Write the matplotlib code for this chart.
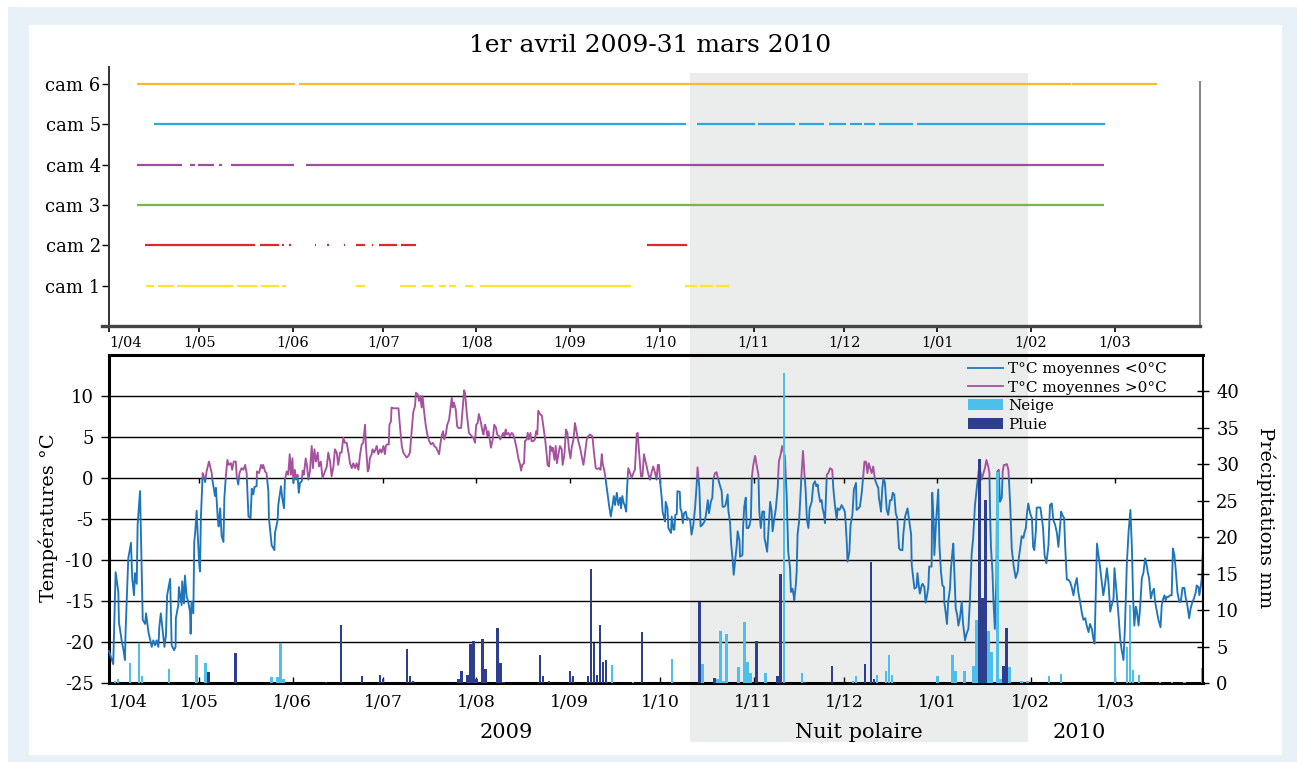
import datetime as dt
import matplotlib
matplotlib.use("Agg")
import matplotlib.pyplot as plt
from matplotlib.patches import Rectangle, Patch
from matplotlib.lines import Line2D
from matplotlib.transforms import blended_transform_factory

plt.rcParams['font.family'] = ['DejaVu Serif']

# ---------------------------------------------------------------- data
START = dt.date(2009, 4, 1)
month_labels = ["1/04", "1/05", "1/06", "1/07", "1/08", "1/09",
                "1/10", "1/11", "1/12", "1/01", "1/02", "1/03"]
polar_night = (dt.date(2009, 10, 11), dt.date(2010, 1, 31))

cam_labels = ["cam 1", "cam 2", "cam 3", "cam 4", "cam 5", "cam 6"]
cam_colors = ["#FFE52B", "#E1262E", "#7DB544", "#9C4E9F", "#2AA8E0", "#F8B833"]

# periods with images, in days since 1 April 2009
cam1_periods = [(12.4, 15.1), (16.2, 21.7), (22.6, 41.2), (42.6, 49.0), (50.6, 56.4),
                (57.5, 58.6), (82.0, 85.0), (96.7, 102.0), (104.0, 107.4),
                (109.6, 112.0), (112.9, 115.3), (118.1, 120.9), (123.3, 173.2),
                (191.3, 195.1), (196.3, 200.5), (201.6, 205.7)]
cam2_periods = [(12.0, 48.5), (50.2, 56.4), (57.6, 58.1), (59.8, 60.3), (68.3, 68.8),
                (72.4, 72.9), (78.0, 78.5), (82.0, 85.0), (87.3, 87.8), (89.6, 95.6),
                (97.0, 102.0), (178.7, 192.0)]
cam3_periods = [(9.3, 330.2)]
cam4_periods = [(9.3, 24.1), (26.9, 28.5), (29.5, 35.0), (36.5, 37.5), (40.5, 61.4),
                (65.5, 330.2)]
cam5_periods = [(15.1, 191.6), (195.1, 214.6), (215.6, 227.6), (229.0, 237.3),
                (238.9, 244.8), (246.0, 249.9), (250.7, 254.4), (255.7, 267.0),
                (268.4, 330.5)]
cam6_periods = [(9.3, 61.9), (63.0, 319.3), (319.7, 348.0)]
cam_periods = [cam1_periods, cam2_periods, cam3_periods,
               cam4_periods, cam5_periods, cam6_periods]

# daily mean temperature (°C), days since 1 April 2009
temp_day = [
    0.0, 1.4, 2.2, 3.1, 3.3, 4.2, 4.8, 5.3, 5.5, 6.4, 7.3, 7.7, 8.3, 8.6, 9.2, 9.5,
    10.3, 10.8, 11.2, 12.0, 12.3, 13.1, 14.2, 14.7, 15.3, 15.8, 16.4, 16.7, 17.2, 17.7,
    18.4, 18.9, 19.3, 20.3, 20.8, 21.6, 22.1, 22.2, 23.0, 23.2, 24.1, 24.3, 24.9, 25.2,
    25.8, 26.3, 26.9, 27.1, 27.4, 28.0, 28.3, 28.6, 29.1, 29.4, 29.9, 30.2, 30.5, 31.1,
    31.5, 31.9, 32.4, 33.2, 34.1, 34.3, 35.2, 35.5, 36.1, 36.4, 36.9, 37.4, 38.0, 38.3,
    38.8, 39.3, 39.8, 40.5, 40.9, 41.4, 42.1, 42.4, 42.9, 43.3, 44.0, 44.6, 45.2, 45.7,
    46.3, 47.0, 47.4, 47.9, 48.3, 49.0, 49.1, 49.8, 50.5, 50.9, 51.2, 51.8, 52.3, 52.9,
    53.1, 54.0, 54.9, 55.1, 56.0, 56.2, 57.1, 57.5, 58.1,
    58.4, 59.0, 59.5, 60.0, 60.4, 60.9, 61.2, 61.7, 62.1, 62.6, 63.0, 63.4, 64.0, 64.3,
    64.7, 65.3, 65.7, 66.2, 66.7, 67.3, 67.7, 68.2, 68.7, 69.3, 69.7, 70.3, 70.9, 71.5,
    72.3, 72.8, 73.4, 73.9, 74.5, 75.0, 75.6, 76.1, 76.7, 77.2, 77.8, 78.3, 78.9, 79.5,
    80.0, 80.6, 81.1, 81.7, 82.2, 82.8, 83.3, 83.9, 84.4, 85.0, 85.3, 85.9, 86.3, 86.6,
    87.2, 87.5, 88.0, 88.5, 88.9, 89.4, 90.0, 90.5, 91.1, 91.6, 91.9, 92.3, 92.9, 93.1,
    93.6, 93.8, 94.4, 95.0, 96.1, 96.6, 97.2, 97.7, 98.8, 99.4, 99.9, 100.5, 101.0,
    101.6, 101.9, 102.5, 102.9, 103.3, 103.8, 104.1, 104.7, 105.2, 105.8, 106.3, 106.9,
    107.5, 108.0, 108.6, 109.1, 109.6, 110.0, 110.4, 110.9, 111.3, 111.8, 112.3, 112.9,
    113.2, 113.8, 114.1, 114.5, 115.1, 115.6, 116.0, 116.5, 116.9, 117.4, 117.9,
    118.2, 118.8, 119.5, 120.4, 121.0, 121.5, 121.9, 122.4, 122.8, 123.4, 124.0, 124.3,
    124.8, 125.2, 125.6, 126.0, 126.5, 126.8, 127.4, 127.9, 128.5, 128.9, 129.5, 129.9,
    130.4, 130.9, 131.3, 131.7, 132.0, 132.6, 133.1, 133.7, 134.2, 134.8, 135.4, 135.9,
    136.5, 136.8, 137.2, 137.8, 138.1, 138.7, 139.0, 139.4, 139.9, 140.3, 140.9, 141.4,
    141.8, 142.2, 142.5, 143.1, 143.7, 144.2, 144.8, 145.2, 145.6, 146.1, 146.5, 147.0,
    147.3, 147.9, 148.3, 148.7, 149.3, 149.7, 150.3, 150.6, 151.2, 151.7, 152.2, 152.7,
    153.2, 153.6, 154.2, 154.7, 155.3, 155.8, 156.4, 156.9, 157.5, 158.0, 158.6, 159.1,
    159.7, 160.5, 161.0, 161.6, 162.1, 162.7, 163.2, 163.6, 163.9, 164.5, 164.9, 165.6,
    166.0, 166.6, 167.1, 167.6, 168.0, 168.6, 169.1, 169.7, 170.0, 170.4, 170.9, 171.2,
    171.7, 172.0, 172.4, 173.0, 173.5, 174.1, 174.6, 175.2, 175.5, 176.0, 176.6, 177.1,
    177.6,
    178.5, 179.1, 179.6, 180.2, 180.7, 181.3, 181.8, 182.2, 182.6, 183.0, 183.5, 183.8,
    184.3, 184.6, 184.8, 185.4, 185.7, 186.3, 186.6, 186.8, 187.4, 187.7, 188.0, 188.5,
    188.7, 189.5, 189.7, 190.1, 190.5, 190.9, 191.5, 192.0, 192.3, 192.9, 193.4, 194.0,
    194.6, 195.1, 195.4, 196.0, 196.4, 197.0, 197.7, 198.1, 198.4, 198.8, 199.2, 199.8,
    200.3, 200.6, 201.2, 201.7, 202.3, 202.9, 203.4, 203.7, 204.3, 204.7, 205.4, 205.6,
    206.2, 206.5, 207.0, 207.4, 207.8, 208.4, 208.7, 209.3, 209.5, 210.3, 210.5, 210.9,
    211.4, 211.7, 212.3, 212.7, 213.1, 213.4, 213.9, 214.5, 215.0, 215.6, 215.9, 216.4,
    216.9, 217.5, 217.6, 218.0, 218.5, 218.9, 219.5, 220.0, 220.3, 220.9, 221.4, 222.0,
    222.4, 223.0, 223.5, 224.0, 224.4, 225.0, 225.5, 226.1, 226.4, 226.9, 227.3, 227.5,
    228.0, 228.3, 228.6, 229.1, 229.4, 229.9, 230.4, 230.9, 231.3, 231.7, 232.2, 232.6,
    233.3, 233.8, 234.4, 234.8, 235.3, 235.5, 236.1, 236.6, 236.9, 237.4, 237.7,
    238.3, 238.8, 239.4, 240.1, 240.5, 241.0, 241.6, 241.9, 242.5, 242.8, 243.2, 243.8,
    244.3, 244.6, 244.9, 245.2, 245.8, 246.2, 246.8, 247.3, 248.0, 248.2, 248.8, 249.3,
    249.9, 250.3, 250.8, 251.3, 251.8, 252.2, 252.7, 253.2, 253.7, 254.3, 254.9, 255.4,
    255.6, 256.0, 256.3, 256.7, 257.1, 257.6, 258.2, 258.7, 259.3, 259.8, 260.2, 260.7,
    261.2, 261.7, 262.3, 262.9, 263.4, 263.7, 264.3, 264.8, 265.1, 265.7, 266.3, 266.5,
    267.0, 267.4, 268.1, 268.4, 268.9, 269.2, 269.8, 270.1, 270.7, 271.1, 271.6, 272.0,
    272.3, 273.1, 273.3, 273.8, 274.0, 274.6, 274.9, 275.3, 275.7, 276.2, 276.7, 277.2,
    277.3, 277.8, 278.2, 278.6, 279.2, 279.5, 280.0, 280.3, 280.6, 281.1, 281.6, 282.0,
    282.5, 283.1, 283.5, 284.2, 284.7, 285.3, 285.8, 286.4, 286.9, 287.5, 288.1, 288.6,
    288.9, 289.5, 289.7, 290.3, 290.8, 291.3, 291.9, 292.3, 292.5, 292.8, 293.3, 293.6,
    294.1, 294.6, 294.9, 295.4, 295.8, 296.4, 296.7, 297.1,
    297.5, 298.1, 298.6, 299.2, 299.7, 300.3, 301.0, 301.7, 302.1, 302.5, 303.0, 303.6,
    303.9, 304.4, 304.7, 305.2, 305.8, 306.4, 306.8, 307.2, 307.7, 308.0, 308.6, 309.2,
    309.7, 310.1, 310.6, 311.2, 311.9, 312.4, 313.0, 313.5, 314.1, 314.7, 315.2, 315.8,
    316.1, 316.5, 317.1, 317.4, 318.0, 318.5, 319.1, 319.6, 320.2, 320.7, 321.3, 321.8,
    322.4, 323.0, 323.5, 324.1, 324.6, 325.2, 325.7, 326.3, 326.8, 327.2, 327.6, 328.0,
    328.5, 329.0, 329.6, 330.1, 330.7, 331.3, 331.8, 332.4, 332.9, 333.5, 333.8, 334.2,
    334.6, 335.1, 335.7, 336.2, 336.8, 337.3, 337.9, 338.5, 339.1, 339.6, 340.0, 340.4,
    340.9, 341.2, 341.8, 342.3, 342.9, 343.4, 344.0, 344.5, 344.9, 345.3, 345.9, 346.4,
    346.9, 347.3, 347.9, 348.4, 349.1, 349.5, 350.0, 350.4, 350.8, 351.2, 351.7, 352.3,
    352.8, 353.2, 353.7, 354.2, 354.7, 355.3, 355.8, 356.4, 357.0, 357.5, 358.0, 358.6,
    359.1, 359.7, 360.2, 360.8, 361.1, 361.7, 362.0, 362.5, 362.8, 363.3,
]
temp_mean = [
    -21.1, -22.7, -11.5, -13.9, -17.6, -19.8, -21.0, -22.2, -18.8, -9.8, -7.9, -12.2,
    -14.3, -11.6, -12.9, -5.7, -1.6, -10.6, -17.3, -17.8, -16.5, -18.8, -20.6, -19.8,
    -20.4, -19.8, -20.6, -18.2, -16.5, -18.2, -20.6, -19.2, -14.3, -12.3, -20.4, -21.0,
    -20.6, -17.1, -15.5, -13.3, -15.5, -12.6, -15.3, -11.9, -14.5, -15.1, -16.3, -19.0,
    -15.1, -16.5, -7.8, -6.7, -4.0, -6.5, -10.2, -11.4, -4.9, 0.6, 0.2, -0.5, 0.8, 2.0,
    0.6, -0.2, -2.2, -1.2, -4.9, -5.9, -3.7, -7.1, -7.8, -2.4, 0.2, 2.2, 1.6, 1.8, 1.0,
    2.0, 2.0, 0.2, -0.8, 0.6, 1.2, 1.0, 1.6, 0.6, -4.7, -4.9, -1.3, -2.0, -1.1, -1.0,
    0.8, 0.6, 1.6, 1.2, 1.6, 0.8, 0.6, -1.6, -4.9, -8.2, -8.8, -6.7, -5.1, -3.3, -1.0,
    -2.4, -3.7,
    -0.2, 0.8, 0.4, 2.9, 0.4, 2.4, -0.6, 1.0, -0.2, 0.4, -1.8, -0.6, -0.4, 0.9, 0.4, 2.4,
    1.6, -0.2, 0.8, 3.9, 1.2, 3.5, 2.0, 3.1, 1.4, 2.0, 0.0, 0.6, 1.4, 3.1, 2.0, 0.2, 1.4,
    3.5, 3.1, 1.6, 3.1, 3.1, 4.9, 4.3, 4.3, 3.1, 1.8, 1.2, 1.8, 1.2, 1.8, 1.0, 2.7, 4.1,
    4.3, 6.5, 3.9, 0.8, 1.2, 2.4, 2.9, 3.5, 3.1, 3.5, 3.9, 2.9, 3.5, 3.1, 3.9, 2.9, 3.9,
    4.1, 4.1, 6.5, 6.9, 8.6, 8.5, 8.5, 8.5, 6.3, 3.9, 3.1, 2.5, 2.7, 3.1, 5.7, 8.0, 8.8,
    10.4, 10.2, 9.4, 10.0, 8.6, 10.0, 7.8, 6.3, 5.1, 4.5, 4.1, 4.3, 3.9, 3.7, 3.3, 2.9,
    4.1, 5.1, 5.7, 4.7, 5.3, 6.5, 7.1, 8.0, 9.8, 8.6, 9.2, 8.4, 6.3, 6.1, 6.1, 6.1, 8.4,
    10.7,
    10.4, 7.8, 5.5, 5.1, 4.9, 4.3, 6.5, 6.7, 7.8, 6.9, 5.7, 5.3, 6.5, 6.1, 5.1, 5.7, 4.5,
    3.7, 4.7, 6.5, 6.1, 5.3, 5.1, 4.7, 5.1, 5.5, 5.1, 5.9, 5.3, 5.5, 5.1, 5.5, 5.3, 4.5,
    3.5, 2.4, 1.6, 0.9, 1.6, 1.8, 4.5, 4.7, 5.5, 4.7, 5.5, 4.5, 4.5, 4.7, 5.7, 5.3, 8.2,
    7.8, 7.6, 6.3, 4.7, 3.3, 1.6, 1.4, 3.9, 3.3, 3.7, 2.2, 3.9, 1.8, 3.1, 3.9, 3.5, 1.6,
    2.9, 5.9, 5.5, 3.5, 2.4, 3.7, 4.7, 6.7, 5.5, 4.5, 3.7, 2.7, 1.6, 2.9, 4.7, 5.1, 5.3,
    5.1, 3.1, 1.2, 1.1, 1.2, 1.0, 2.9, 1.8, 0.8, -0.2, -2.2, -3.3, -4.7, -3.5, -2.2,
    -3.3, -1.8, -3.3, -2.4, -3.7, -2.2, -3.1, -3.3, -4.1, -1.2, 1.2, 0.6, 0.0, 0.6, 1.0,
    5.3, 5.5, 3.1, 0.2, 0.2, 2.9,
    1.4, 0.4, -0.2, 0.8, 1.4, 0.6, -0.2, 1.6, 1.6, -0.6, -2.4, -4.1, -4.9, -5.3, -2.9,
    -3.7, -6.1, -6.5, -6.7, -4.7, -6.3, -6.3, -4.5, -4.4, -1.6, -1.7, -3.7, -4.1, -5.5,
    -4.3, -4.1, -5.1, -4.9, -5.1, -6.9, -5.7, -3.5, -0.8, 1.3, -1.2, -5.9, -5.7, -5.3,
    -4.7, -3.9, -2.7, -4.3, -2.9, -2.4, -0.2, 0.6, 0.7, -0.2, -1.0, -1.6, -3.5, -3.5,
    -3.3, -2.0, -3.9, -5.5, -7.8, -9.8, -11.8, -10.4, -8.2, -6.5, -7.6, -9.6, -9.4, -6.1,
    -3.5, -2.4, -6.1, -6.1, -5.7, -4.9, 0.0, 1.6, 2.7, 1.6, 0.4, -4.1, -6.1, -4.1, -4.1,
    -7.3, -8.0, -9.0, -6.5, -2.9, -4.1, -6.5, -4.9, -3.7, -1.2, 2.0, 2.9, 3.9, 3.1, 2.7,
    -2.4, -9.0, -11.0, -13.9, -13.5, -14.3, -14.9, -13.1, -11.4, -6.9, -5.3, -3.3, 0.4,
    3.3, 0.4, -1.6, -5.1, -6.1, -3.7, -2.9, -0.8, -0.4, -1.0, -0.8, -1.6, -2.9, -2.7,
    -3.7, -4.5, -5.5,
    0.4, 0.6, 1.2, 1.0, -1.4, -3.3, -5.1, -3.7, -3.9, -3.7, -3.3, -3.7, -4.1, -5.7, -7.6,
    -10.2, -9.0, -5.7, -4.5, -1.4, -0.6, -3.9, -3.7, -3.5, -1.8, -0.2, 2.0, 2.0, 0.6,
    1.8, 1.2, 0.6, 1.4, -0.2, -0.8, -1.2, -2.4, -3.3, -4.1, -1.4, 0.0, -0.6, -3.9, -4.5,
    -2.7, -2.7, -1.8, -2.0, -4.3, -4.9, -8.6, -8.8, -8.8, -6.9, -4.7, -4.1, -3.7, -5.3,
    -6.9, -10.6, -12.2, -13.5, -13.3, -11.6, -13.3, -14.1, -13.1, -12.9, -13.3, -15.2,
    -14.3, -13.3, -10.8, -10.8, -1.8, -5.3, -9.4, -5.3, -3.7, -1.4, -8.2, -11.4, -13.1,
    -13.3, -15.1, -16.5, -17.8, -15.1, -13.5, -11.2, -9.0, -8.0, -11.0, -15.9, -16.7,
    -18.0, -17.1, -15.1, -17.6, -19.8, -19.0, -18.4, -15.1, -9.2, -7.3, -3.3, -1.2, 0.4,
    1.4, 0.4, -0.2, 0.6, 1.2, 2.2, 1.4, 0.6, -4.1, -8.4, -11.4, -14.7, -18.4, -12.2, 0.8,
    1.0, -2.9, -2.4, 0.8, 1.6,
    1.6, 1.7, 1.0, -3.3, -8.6, -10.6, -12.2, -11.4, -9.6, -8.6, -7.1, -7.3, -6.7, -6.1,
    -4.5, -3.1, -4.3, -4.9, -8.4, -8.8, -6.5, -3.6, -3.6, -3.6, -4.9, -6.1, -9.4, -10.4,
    -8.2, -3.3, -3.1, -5.1, -5.7, -6.7, -8.4, -5.7, -4.1, -4.5, -4.9, -8.0, -12.4, -12.4,
    -12.7, -13.3, -14.3, -13.1, -12.2, -13.9, -15.1, -16.5, -17.3, -17.1, -18.0, -18.8,
    -17.8, -18.4, -19.6, -20.2, -13.9, -8.0, -9.4, -10.8, -12.7, -14.3, -12.9, -11.0,
    -12.7, -16.3, -15.5, -14.7, -11.0, -12.7, -14.3, -16.5, -19.6, -21.0, -22.2, -18.0,
    -10.6, -6.5, -3.9, -8.6, -14.7, -18.0, -15.7, -16.1, -18.0, -15.9, -12.2, -11.6,
    -9.8, -10.6, -11.6, -12.2, -14.7, -13.9, -13.5, -15.1, -16.3, -17.3, -18.2, -15.5,
    -14.7, -14.3, -14.9, -14.5, -14.5, -14.3, -14.3, -8.6, -9.4, -11.4, -13.9, -15.1,
    -15.1, -13.4, -13.4, -14.7, -15.5, -17.1, -15.9, -15.1, -14.7, -13.9, -13.1, -13.3,
    -14.3, -13.1, -12.2, -7.3,
]

# daily precipitation (mm)
snow_day = [2, 3, 7, 10, 11, 20, 29, 32, 54, 56, 57, 58, 167, 174, 187, 197, 202, 203,
            204, 205, 209, 211, 212, 213, 218, 224, 230, 247, 248, 255, 258, 259, 260,
            275, 280, 281, 284, 287, 288, 292, 293, 295, 296, 299, 303, 305, 312, 316,
            334, 338, 339, 340, 342, 349, 353, 357, 363]
snow_mm = [0.3, 0.5, 2.7, 5.5, 1.0, 1.9, 3.8, 2.8, 0.8, 0.8, 5.5, 0.6, 2.5, 0.2, 3.3,
           2.6, 0.5, 7.1, 0.3, 6.7, 2.2, 8.4, 2.9, 1.4, 1.4, 42.5, 1.4, 0.3, 0.9, 1.1,
           1.6, 3.9, 1.1, 1.0, 3.8, 1.6, 1.6, 2.4, 8.6, 7.1, 4.2, 29.0, 0.6, 2.2, 0.3,
           0.3, 1.0, 1.2, 5.5, 5.0, 10.7, 1.8, 1.1, 0.2, 0.2, 0.2, 2.0]
rain_day = [33, 42, 72, 77, 84, 90, 91, 99, 100, 101, 116, 117, 119, 120, 121, 122, 124,
            125, 129, 130, 131, 143, 144, 146, 153, 154, 159, 160, 161, 162, 163, 164,
            165, 177, 196, 201, 215, 222, 223, 231, 240, 251, 253, 254, 289, 290, 291,
            297, 298]
rain_mm = [1.5, 4.1, 0.2, 8.0, 1.0, 1.1, 0.5, 4.7, 0.9, 0.3, 0.5, 1.6, 1.1, 5.3, 5.7,
           0.5, 6.0, 1.9, 7.5, 2.8, 0.2, 3.9, 1.0, 0.3, 1.7, 1.0, 0.9, 15.6, 5.5, 1.1,
           7.9, 2.9, 3.1, 7.0, 11.1, 0.7, 5.7, 1.0, 14.9, 0.2, 2.4, 2.6, 16.6, 0.5, 30.8,
           11.6, 25.1, 2.3, 7.6]

# ---------------------------------------------------------------- styling
BLUE_T = "#1F75BB"
PINK_T = "#A6519E"
SNOW = "#4CC0EA"
RAIN = "#2E3E8F"
SHADE = "#EBECEC"
FRAME = "#E8F0F8"

month_days = []
for i in range(12):
    y = 2009 + (3 + i) // 12
    m = (3 + i) % 12 + 1
    month_days.append((dt.date(y, m, 1) - START).days)
night0 = (polar_night[0] - START).days
night1 = (polar_night[1] - START).days

W, H = 1297, 762
fig = plt.figure(figsize=(W / 100, H / 100), dpi=100)
fig.patch.set_facecolor("white")


def fx(px):
    return px / W


def fy(py):
    return 1 - py / H


fig.patches.append(Rectangle((fx(8), 0), 1 - fx(8), fy(7), transform=fig.transFigure,
                             facecolor=FRAME, edgecolor="none", zorder=-3))
fig.patches.append(Rectangle((fx(29), fy(755)), fx(1282) - fx(29), fy(25) - fy(755),
                             transform=fig.transFigure, facecolor="white",
                             edgecolor="none", zorder=-2))

# ---------------------------------------------------------------- camera panel
ax_t = fig.add_axes([fx(109), fy(326), fx(1200) - fx(109), fy(67) - fy(326)])
ax_t.set_facecolor("none")
ax_t.set_xlim(0, 362.2)
ax_t.set_ylim(0, 6.42)
for k, (periods, col) in enumerate(zip(cam_periods, cam_colors)):
    ax_t.hlines([k + 1] * len(periods), [p[0] for p in periods],
                [p[1] for p in periods], colors=col, lw=1.6)
ax_t.set_yticks(range(1, 7))
ax_t.set_yticklabels(cam_labels, fontsize=13)
ax_t.set_xticks(month_days)
ax_t.set_xticklabels(month_labels, fontsize=10.5)
ax_t.get_xticklabels()[0].set_ha("left")
ax_t.tick_params(axis="y", direction="out", length=5, width=1, pad=1)
ax_t.tick_params(axis="x", direction="out", length=4, width=1.2, pad=3)
ax_t.spines["top"].set_visible(False)
ax_t.spines["left"].set_linewidth(1.4)
ax_t.spines["left"].set_color("#333333")
ax_t.spines["right"].set_color("#888888")
ax_t.spines["right"].set_linewidth(1.5)
ax_t.spines["right"].set_bounds(0, 6.05)
ax_t.spines["bottom"].set_linewidth(2.4)
ax_t.spines["bottom"].set_color("#444444")
ax_t.spines["bottom"].set_bounds(-2.2, 362.2)

# ---------------------------------------------------------------- weather panel
ax_b = fig.add_axes([fx(109), fy(683), fx(1203) - fx(109), fy(355) - fy(683)])
ax_b.set_facecolor("none")
ax_b.set_xlim(0, 363.2)
ax_b.set_ylim(-25, 15)
ax_b.set_yticks(range(-25, 15, 5))
ax_b.set_yticklabels([str(v) for v in range(-25, 15, 5)], fontsize=13)
ax_b.yaxis.grid(True, color="black", lw=1.0)
ax_b.set_xticks(month_days)
ax_b.set_xticklabels(month_labels, fontsize=12.5)
ax_b.get_xticklabels()[0].set_ha("left")
ax_b.tick_params(axis="y", direction="out", length=6, width=1, pad=5)
ax_b.tick_params(axis="x", direction="in", length=4, width=1, pad=8)
for s in ("left", "bottom", "top"):
    ax_b.spines[s].set_linewidth(2.2)
ax_b.spines["right"].set_visible(False)

# small ticks along the 0 °C line
ax_b.vlines(month_days[1:], -0.55, 0, color="black", lw=1, zorder=2)

cold, = ax_b.plot(temp_day, temp_mean, color=BLUE_T, lw=1.35, zorder=3)
warm, = ax_b.plot(temp_day, temp_mean, color=PINK_T, lw=1.35, zorder=3)
cold.set_clip_path(Rectangle((-10, -30), 400, 30, transform=ax_b.transData))
warm.set_clip_path(Rectangle((-10, 0), 400, 30, transform=ax_b.transData))

ax_p = ax_b.twinx()
ax_p.set_ylim(0, 45)
ax_p.set_yticks(range(0, 45, 5))
ax_p.set_yticklabels([str(v) for v in range(0, 45, 5)], fontsize=13)
ax_p.tick_params(axis="y", direction="inout", length=9, width=1, pad=5)
for s in ("left", "bottom", "top"):
    ax_p.spines[s].set_visible(False)
ax_p.spines["right"].set_linewidth(1.5)
ax_p.bar(snow_day, snow_mm, width=0.8, color=SNOW, linewidth=0, zorder=2)
ax_p.bar(rain_day, rain_mm, width=0.8, color=RAIN, linewidth=0, zorder=2)

handles = [Line2D([], [], color=BLUE_T, lw=1.3), Line2D([], [], color=PINK_T, lw=1.3),
           Patch(facecolor=SNOW, edgecolor="none"), Patch(facecolor=RAIN, edgecolor="none")]
labels = ["T°C moyennes <0°C", "T°C moyennes >0°C", "Neige", "Pluie"]
ax_p.legend(handles, labels, loc="upper left", bbox_to_anchor=(fx(968), fy(362)),
            bbox_transform=fig.transFigure, frameon=False, fontsize=11,
            handlelength=2.3, handletextpad=0.35, labelspacing=0.3,
            borderpad=0, borderaxespad=0)

# polar night shading spanning both panels
shade_tr = blended_transform_factory(ax_b.transData, fig.transFigure)
fig.patches.append(Rectangle((night0, fy(742)), night1 - night0, fy(72.7) - fy(742),
                             transform=shade_tr, facecolor=SHADE, edgecolor="none",
                             zorder=-1))

# ---------------------------------------------------------------- texts
fig.text(fx(650), fy(45), "1er avril 2009-31 mars 2010", ha="center", va="center",
         fontsize=18)
fig.text(fx(48), fy(518), "Températures °C", rotation=90, ha="center", va="center",
         fontsize=14)
fig.text(fx(1266), fy(518), "Précipitations mm", rotation=270, ha="center",
         va="center", fontsize=14)
fig.text((night0 + night1) / 2, fy(732), "Nuit polaire", transform=shade_tr,
         ha="center", va="center", fontsize=15)
fig.text(132, fy(732), "2009", transform=shade_tr, ha="center", va="center",
         fontsize=15)
fig.text(322, fy(732), "2010", transform=shade_tr, ha="center", va="center",
         fontsize=15)

fig.savefig("out.png", dpi=100)
